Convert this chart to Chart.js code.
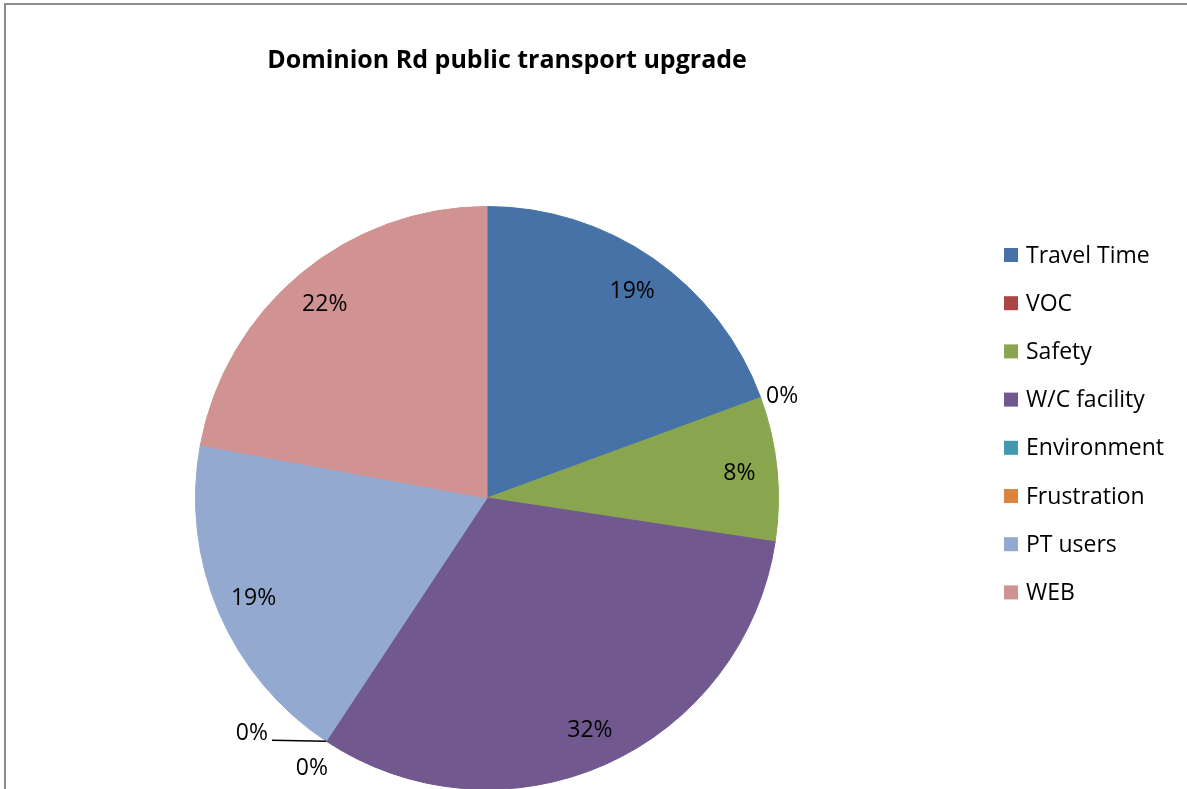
<!DOCTYPE html>
<html lang="en">
<head>
    <meta charset="UTF-8">
    <title>Dominion Rd public transport upgrade</title>
    <script src="https://cdn.jsdelivr.net/npm/chart.js"></script>
    <style>
        body {
            margin: 0;
            width: 1187px;
            height: 789px;
            overflow: hidden;
            background: #fff;
            position: relative;
        }

        .frame {
            position: absolute;
            left: 4px;
            top: 3px;
            width: 1300px;
            height: 900px;
            border: 2px solid #8c8c8c;
            box-sizing: border-box;
        }

        canvas {
            position: absolute;
            left: 0;
            top: 0;
        }
    </style>
</head>
<body>
    <div class="frame"></div>
    <canvas id="pieChart" width="1187" height="800"></canvas>

    <script>
        const chartTitle = 'Dominion Rd public transport upgrade';
        const categories = ['Travel Time', 'VOC', 'Safety', 'W/C facility', 'Environment', 'Frustration', 'PT users', 'WEB'];
        const shares = [19.4, 0, 8.0, 31.9, 0, 0, 18.6, 22.1];
        const colours = ['#4672a8', '#aa4643', '#89a54e', '#71588f', '#4198af', '#db843d', '#93a9cf', '#d19392'];

        const FONT = '"Open Sans", sans-serif';

        // title, slice labels and legend are painted after the pie
        const annotate = {
            id: 'annotate',
            afterDatasetsDraw(chart) {
                const ctx = chart.ctx;
                const arcs = chart.getDatasetMeta(0).data;
                const total = shares.reduce((a, b) => a + b, 0);

                ctx.save();
                ctx.fillStyle = '#000';

                // title
                ctx.font = 'bold 25px ' + FONT;
                ctx.textAlign = 'center';
                ctx.textBaseline = 'middle';
                ctx.fillText(chartTitle, 507, 61);

                // percentage labels
                ctx.font = '23px ' + FONT;
                let prevZero = false;
                arcs.forEach((arc, i) => {
                    const { x, y, startAngle, endAngle, outerRadius } = arc.getProps(['x', 'y', 'startAngle', 'endAngle', 'outerRadius'], true);
                    const mid = (startAngle + endAngle) / 2;
                    const text = Math.round(shares[i] / total * 100) + '%';
                    const cos = Math.cos(mid), sin = Math.sin(mid);
                    if (shares[i] > 0) {
                        const d = outerRadius * 0.87;
                        ctx.fillText(text, x + cos * d, y + sin * d + 1);
                        prevZero = false;
                        return;
                    }
                    // empty slices get their label just outside the rim
                    const d = outerRadius + 24;
                    let lx = x + cos * d - 1, ly = y + sin * d + 7;
                    if (!prevZero && i + 1 < shares.length && shares[i + 1] === 0) {
                        // two empty slices at the same spot: pull the first one out sideways
                        const ex = x + cos * outerRadius, ey = y + sin * outerRadius;
                        lx -= 60; ly -= 35;
                        const w = ctx.measureText(text).width;
                        ctx.beginPath();
                        ctx.moveTo(ex, ey);
                        ctx.lineTo(lx + w / 2 + 4, ly + 7);
                        ctx.lineWidth = 1.5;
                        ctx.strokeStyle = '#000';
                        ctx.stroke();
                    }
                    ctx.fillText(text, lx, ly);
                    prevZero = true;
                });

                // legend
                ctx.textAlign = 'left';
                categories.forEach((name, i) => {
                    const cy = 255 + i * 48.2;
                    ctx.fillStyle = colours[i];
                    ctx.fillRect(1004, cy - 7, 14, 14);
                    ctx.fillStyle = '#000';
                    ctx.fillText(name, 1026, cy + 1);
                });
                ctx.restore();
            }
        };

        new Chart(document.getElementById('pieChart'), {
            type: 'pie',
            data: {
                labels: categories,
                datasets: [{
                    data: shares,
                    backgroundColor: colours,
                    borderColor: colours,
                    borderWidth: 1
                }]
            },
            options: {
                responsive: false,
                animation: false,
                layout: {
                    padding: { left: 195, top: 206, right: 408, bottom: 10 }
                },
                plugins: {
                    legend: { display: false },
                    tooltip: { enabled: false }
                }
            },
            plugins: [annotate]
        });
    </script>
</body>
</html>
